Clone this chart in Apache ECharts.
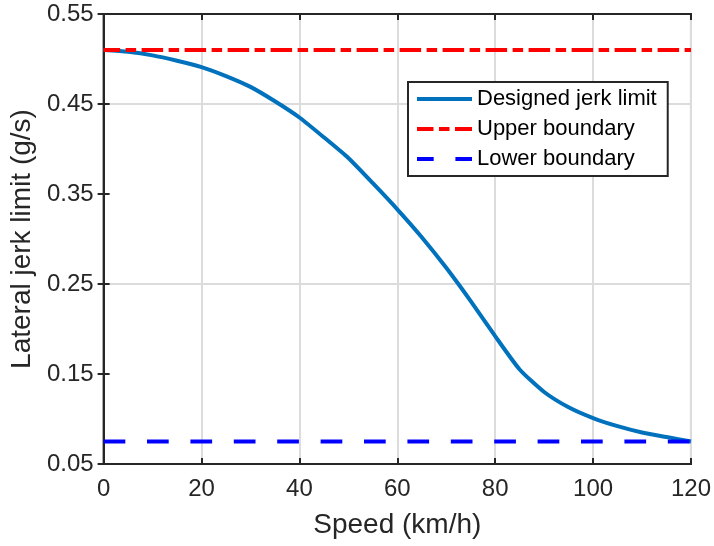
<!DOCTYPE html>
<html>
<head>
<meta charset="utf-8">
<script src="https://cdn.jsdelivr.net/npm/echarts@6/dist/echarts.min.js"></script>
<style>
html,body{margin:0;padding:0;background:#fff;}
#chart{width:714px;height:546px;}
</style>
</head>
<body>
<div id="chart"></div>
<script>
// Data
const speeds = [0,5,10,15,20,25,30,35,40,45,50,55,60,65,70,75,80,85,90,95,100,105,110,115,120];
const designedJerk = [0.510,0.508,0.504,0.498,0.491,0.481,0.469,0.453,0.435,0.413,0.390,0.362,0.333,0.302,0.268,0.231,0.192,0.155,0.130,0.113,0.101,0.092,0.085,0.080,0.075];
const boundarySpeeds = [0,120];
const upperBoundary = [0.51,0.51];
const lowerBoundary = [0.075,0.075];
const yTickValues = [0.05,0.15,0.25,0.35,0.45,0.55];
const seriesNames = ['Designed jerk limit','Upper boundary','Lower boundary'];

const axisColor = '#262626';
const font = 'Liberation Sans, Arial, Helvetica, sans-serif';

const pair = (xs, ys) => xs.map((x,i)=>[x, ys[i]]);

const chart = echarts.init(document.getElementById('chart'), null, {renderer:'canvas'});
chart.setOption({
  animation:false,
  backgroundColor:'#fff',
  grid:{left:102,right:22,top:14,bottom:82,show:true,borderColor:axisColor,borderWidth:2,backgroundColor:'transparent'},
  legend:{
    data:seriesNames,
    orient:'vertical',
    left:408, top:82,
    itemWidth:55, itemHeight:23, itemGap:8,
    padding:[6,11,6,7],
    borderColor:axisColor, borderWidth:2,
    backgroundColor:'#fff',
    itemStyle:{color:'rgba(0,0,0,0)',borderWidth:0,opacity:0},
    lineStyle:{width:4,cap:'butt'},
    textStyle:{fontFamily:font,fontSize:22,color:'#000'},
    selectedMode:false
  },
  xAxis:[{
    type:'value', min:0, max:120, interval:20,
    name:'Speed (km/h)', nameLocation:'middle', nameGap:47,
    nameTextStyle:{fontFamily:font,fontSize:28,color:axisColor},
    axisLine:{show:true,lineStyle:{color:axisColor,width:2}},
    axisTick:{show:true,inside:true,length:6,lineStyle:{color:axisColor,width:2}},
    axisLabel:{fontFamily:font,fontSize:24,color:axisColor,margin:13},
    splitLine:{show:true,lineStyle:{color:'#dcdcdc',width:2}}
  },{
    type:'value', min:0, max:120, interval:20, position:'top',
    axisLine:{show:true,lineStyle:{color:axisColor,width:2}},
    axisTick:{show:true,inside:true,length:6,lineStyle:{color:axisColor,width:2}},
    axisLabel:{show:false}, splitLine:{show:false}
  }],
  yAxis:[{
    type:'value', min:0.05, max:0.55, interval:0.05,
    name:'Lateral jerk limit (g/s)', nameLocation:'middle', nameGap:62,
    nameTextStyle:{fontFamily:font,fontSize:28,color:axisColor},
    axisLine:{show:true,lineStyle:{color:axisColor,width:2}},
    axisTick:{show:true,inside:true,length:6,customValues:yTickValues,lineStyle:{color:axisColor,width:2}},
    axisLabel:{fontFamily:font,fontSize:24,color:axisColor,margin:10,customValues:yTickValues,
      formatter:v=>v.toFixed(2)},
    splitLine:{show:true,lineStyle:{color:['#dcdcdc','rgba(0,0,0,0)'],width:2}}
  },{
    type:'value', min:0.05, max:0.55, interval:0.05, position:'right',
    axisLine:{show:true,lineStyle:{color:axisColor,width:2}},
    axisTick:{show:true,inside:true,length:6,customValues:yTickValues,lineStyle:{color:axisColor,width:2}},
    axisLabel:{show:false}, splitLine:{show:false}
  }],
  series:[{
    name:seriesNames[0], type:'line', data:pair(speeds,designedJerk),
    symbol:'none', smooth:0.2, z:3,
    lineStyle:{color:'#0072BD',width:4}, itemStyle:{color:'#0072BD'}
  },{
    name:seriesNames[1], type:'line', data:pair(boundarySpeeds,upperBoundary),
    symbol:'none', z:4,
    lineStyle:{color:'#FF0000',width:4,type:[21.5,5.5,10.5,5.5],dashOffset:5,cap:'butt'}, itemStyle:{color:'#FF0000'}
  },{
    name:seriesNames[2], type:'line', data:pair(boundarySpeeds,lowerBoundary),
    symbol:'none', z:4,
    lineStyle:{color:'#0000FF',width:4,type:[21.7,21.7],cap:'butt'}, itemStyle:{color:'#0000FF'}
  }]
});
</script>
</body>
</html>
